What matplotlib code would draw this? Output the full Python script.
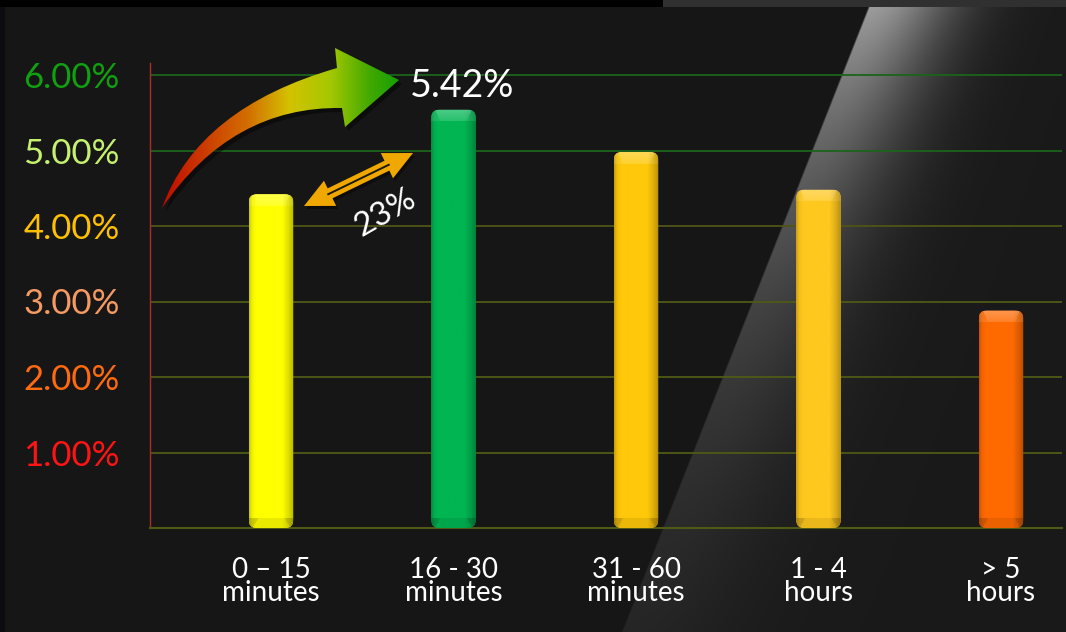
import numpy as np
import matplotlib
matplotlib.use('Agg')
import matplotlib.pyplot as plt
from matplotlib.patches import FancyBboxPatch, Polygon, PathPatch
from matplotlib.path import Path
from matplotlib.colors import to_rgb, LinearSegmentedColormap

# ---------------- data ----------------
categories = ['0 \u2013 15\nminutes', '16 - 30\nminutes', '31 - 60\nminutes', '1 - 4\nhours', '> 5\nhours']
values = [4.42, 5.54, 4.98, 4.48, 2.88]
bar_colors = ['#ffff00', '#00b552', '#ffc80a', '#ffc81e', '#ff6a00']
y_ticks = [1, 2, 3, 4, 5, 6]
y_tick_labels = ['1.00%', '2.00%', '3.00%', '4.00%', '5.00%', '6.00%']
y_tick_colors = ['#ff1414', '#ff6a10', '#f59a62', '#ffc000', '#c6f070', '#10a010']
grid_colors = ['#4e5a16', '#4e5a16', '#4e5a16', '#4e5516', '#1c641c', '#1c641c']
peak_label = '5.42%'
growth_label = '23%'

FONT = ['Lato', 'DejaVu Sans']
plt.rcParams['font.family'] = FONT

W, H = 1066, 632
fig = plt.figure(figsize=(W / 100, H / 100), dpi=100, facecolor='#161616')

# ---------------- background (decoration) ----------------
yy, xx = np.mgrid[0:H, 0:W].astype(float)
bg = np.full((H, W, 3), 0x16 / 255.0)
bg[:, :5] = [0x0b / 255, 0x0b / 255, 0x11 / 255]
top = yy < 7
bg[top & (xx < 663)] = 0.0
bg[top & (xx >= 663)] = 0x30 / 255
xl = 867 - 0.395 * (yy - 8)
d = xx - xl
inside = (d >= 0) & (yy >= 7)
peak = 0.52 * np.exp(-yy / 260.0)
wid = 85 + 0.05 * yy
edge = np.clip(d / 2.0, 0, 1)
add = (peak * np.exp(-(d / wid) ** 2) + 0.015) * edge
bg += (add * inside)[..., None]
bg = np.clip(bg, 0, 1)
bax = fig.add_axes([0, 0, 1, 1])
bax.imshow(bg, extent=(0, W, H, 0), aspect='auto', interpolation='bilinear')
bax.set_xlim(0, W)
bax.set_ylim(H, 0)
bax.axis('off')
bax.set_zorder(0)

# ---------------- chart axes ----------------
px_x, px_y = 182.5, 75.5
ax = fig.add_axes([150 / W, 1 - 528 / H, (1062 - 150) / W, (528 - 63) / H])
ax.set_zorder(1)
ax.set_facecolor('none')
x = np.arange(len(categories))
XL = (-121 / px_x, -121 / px_x + 912 / px_x)
YL = (0, 465 / px_y)
ax.set_xlim(*XL)
ax.set_ylim(*YL)

bw = 44.5 / px_x
bars = ax.bar(x, values, width=bw, color=bar_colors, linewidth=0, zorder=3)

r = 8 / px_x
m = px_x / px_y
for bar, col in zip(bars, bar_colors):
    x0, y0 = bar.get_x(), bar.get_y()
    w, h = bar.get_width(), bar.get_height()
    clip = FancyBboxPatch((x0, y0), w, h, boxstyle=f'round,pad=0,rounding_size={r}',
                          mutation_aspect=m, transform=ax.transData,
                          facecolor='none', edgecolor='none')
    ax.add_patch(clip)
    bar.set_clip_path(clip)
    # glossy shading
    nx = max(int(round(w * px_x)), 2)
    ny = max(int(round(h * px_y)), 2)
    base = np.array(to_rgb(col))
    u = np.linspace(0, 1, nx)
    hf = np.interp(u, [0, 0.06, 0.15, 0.75, 0.9, 1.0], [0.80, 0.95, 1.0, 1.0, 0.86, 0.72])
    img = np.ones((ny, nx, 3)) * base[None, None, :] * hf[None, :, None]
    cap = 12
    for row in range(min(cap, ny)):
        t = row / cap
        lo, hi = 0.08 + 0.12 * t, 0.92 - 0.12 * t
        inside_c = (u >= lo) & (u <= hi)
        amt = np.where(inside_c, 0.30 * (1 - 0.5 * t), 0.10)
        img[row] = img[row] * (1 - amt[:, None]) + amt[:, None]
    for k in range(min(10, ny)):
        row = ny - 1 - k
        t = k / 10
        lo, hi = 0.08 + 0.12 * t, 0.92 - 0.12 * t
        inside_c = (u >= lo) & (u <= hi)
        f = np.where(inside_c, 0.92, 0.82)
        img[row] = img[row] * f[:, None]
    im = ax.imshow(np.clip(img, 0, 1), extent=(x0, x0 + w, y0, y0 + h), origin='upper',
                   aspect='auto', zorder=4, interpolation='bilinear')
    im.set_clip_path(clip)

ax.set_xlim(*XL)
ax.set_ylim(*YL)

# grid
ax.set_yticks(y_ticks)
ax.set_yticklabels(y_tick_labels)
for v, gc in zip(y_ticks, grid_colors):
    ax.axhline(v, color=gc, lw=1.3, zorder=1)
for lab, c in zip(ax.get_yticklabels(), y_tick_colors):
    lab.set_color(c)
    lab.set_fontsize(25)
ax.tick_params(axis='y', length=0, pad=22)
ax.set_xticks(x)
ax.set_xticklabels(categories, color='white', fontsize=20, linespacing=0.85)
ax.tick_params(axis='x', length=0, pad=21)

for s in ['top', 'right']:
    ax.spines[s].set_visible(False)
ax.spines['left'].set_color('#b02a2a')
ax.spines['left'].set_linewidth(1.0)
ax.spines['bottom'].set_color('#4e5a16')
ax.spines['bottom'].set_linewidth(1.5)

# ---------------- overlay annotations (pixel coords) ----------------
ov = fig.add_axes([0, 0, 1, 1])
ov.set_zorder(3)
ov.set_facecolor('none')
ov.set_xlim(0, W)
ov.set_ylim(H, 0)
ov.axis('off')

verts = [(162, 208), (198, 108), (337, 68),
         (335, 48), (399, 80), (345, 127), (342, 108),
         (232, 106), (162, 208), (162, 208)]
codes = [Path.MOVETO, Path.CURVE3, Path.CURVE3,
         Path.LINETO, Path.LINETO, Path.LINETO, Path.LINETO,
         Path.CURVE3, Path.CURVE3, Path.CLOSEPOLY]
apath = Path(verts, codes)
shadow = PathPatch(Path([(vx + 3, vy + 4) for vx, vy in verts], codes),
                   facecolor='black', edgecolor='none', alpha=0.45, zorder=1)
ov.add_patch(shadow)
apatch = PathPatch(apath, facecolor='none', edgecolor='none', zorder=1)
ov.add_patch(apatch)
cmap = LinearSegmentedColormap.from_list('arr', [
    (0.0, '#c00800'), (0.2, '#cc4000'), (0.37, '#d27000'), (0.54, '#d4c200'),
    (0.71, '#a4c800'), (0.88, '#40a800'), (1.0, '#14a000')])
grad = np.linspace(0, 1, 256)[None, :].repeat(2, axis=0)
gim = ov.imshow(grad, cmap=cmap, extent=(160, 400, 210, 45), aspect='auto',
                interpolation='bilinear', zorder=2)
gim.set_clip_path(apatch)
ov.set_xlim(0, W)
ov.set_ylim(H, 0)

# double arrow
P0 = np.array([304.0, 206.0])
P1 = np.array([413.0, 153.0])
uvec = (P1 - P0) / np.linalg.norm(P1 - P0)
nvec = np.array([-uvec[1], uvec[0]])
L, hw, sw = 29, 14, 5.5
pts = [P0, P0 + L * uvec + hw * nvec, P0 + L * uvec + sw * nvec,
       P1 - L * uvec + sw * nvec, P1 - L * uvec + hw * nvec, P1,
       P1 - L * uvec - hw * nvec, P1 - L * uvec - sw * nvec,
       P0 + L * uvec - sw * nvec, P0 + L * uvec - hw * nvec]
ov.add_patch(Polygon([p + np.array([2, 3]) for p in pts], closed=True, facecolor='black',
                     edgecolor='none', alpha=0.4, zorder=3))
ov.add_patch(Polygon(pts, closed=True, facecolor='#f0a800', edgecolor='none', zorder=4))
a = P0 + (L - 3) * uvec
b = P1 - (L - 3) * uvec
ov.plot([a[0], b[0]], [a[1], b[1]], color='#1a1a1a', lw=1.4, solid_capstyle='butt', zorder=5)

ov.text(462, 86, peak_label, color='white', fontsize=27, ha='center', va='center', zorder=6)
ov.text(385, 213, growth_label, color='white', fontsize=24, ha='center', va='center',
        rotation=30, rotation_mode='anchor', zorder=6)

fig.savefig('out.png', dpi=100, facecolor=fig.get_facecolor())
